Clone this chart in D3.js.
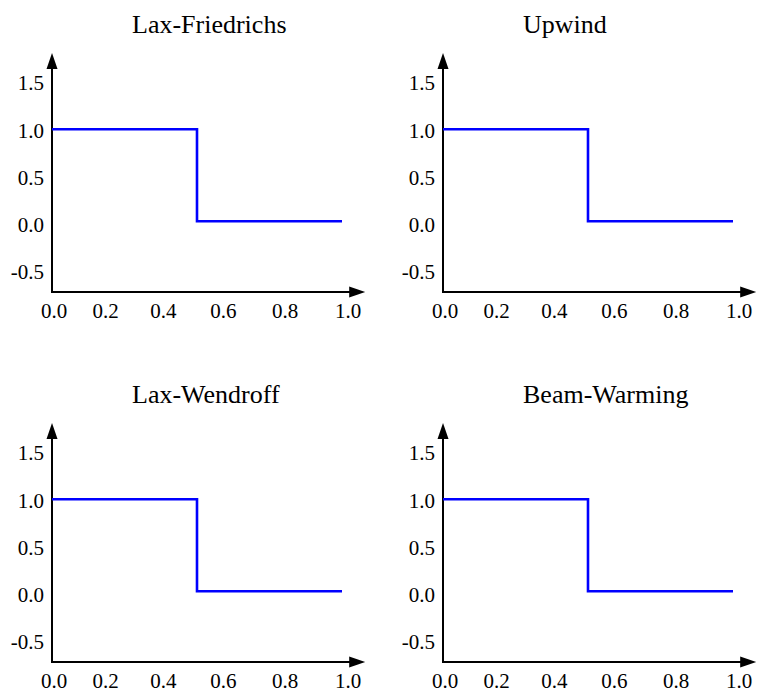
<!DOCTYPE html>
<html>
<head>
<meta charset="utf-8">
<script src="https://cdn.jsdelivr.net/npm/d3@7"></script>
<style>
  body { margin: 0; background: #fff; }
  text { font-family: "Liberation Serif", "Times New Roman", serif; fill: #000; }
</style>
</head>
<body>
<div id="chart"></div>
<script>
// Data
const titles = ["Lax-Friedrichs", "Upwind", "Lax-Wendroff", "Beam-Warming"];
const xValues = [0, 0.5, 0.5, 1.0];
const laxFriedrichs = [1, 1, 0, 0];
const upwind = [1, 1, 0, 0];
const laxWendroff = [1, 1, 0, 0];
const beamWarming = [1, 1, 0, 0];
const series = [laxFriedrichs, upwind, laxWendroff, beamWarming];
const xTicks = [0, 0.2, 0.4, 0.6, 0.8, 1.0];
const yTicks = [-0.5, 0, 0.5, 1.0, 1.5];

const width = 757, height = 691;
const origin = { x: 52, y: 292 };   // axis corner of first panel
const step = { x: 391, y: 370 };    // offset between panels

const svg = d3.select("#chart")
  .append("svg")
    .attr("width", width)
    .attr("height", height);

// Scales (relative to each panel's axis corner)
const x = d3.scaleLinear().domain([0, 1]).range([0, 290]);
const y = d3.scaleLinear().domain([-0.77, 1.83]).range([0, -239]);
// tick labels sit a bit off the data scale in the original
const xLabel = d3.scalePow().exponent(1.08).domain([0, 1]).range([2, 296]);
const yLabel = d3.scaleLinear().domain([-0.5, 1.5]).range([-20, -209]);
const fmt = d => d3.format(".1f")(d).replace("\u2212", "-");

const line = d3.line()
  .x((d, i) => x(xValues[i]))
  .y(d => y(d));

titles.forEach((title, k) => {
  const g = svg.append("g")
    .attr("transform", `translate(${origin.x + (k % 2) * step.x},${origin.y + Math.floor(k / 2) * step.y})`);

  // title
  g.append("text")
    .attr("x", 80)
    .attr("y", -259)
    .style("font-size", "26px")
    .text(title);

  // axes with arrow heads
  const xEnd = x(1.08), yEnd = y(1.83);
  g.append("line")
    .attr("x1", 0).attr("y1", 0)
    .attr("x2", xEnd - 14).attr("y2", 0)
    .attr("stroke", "#000").attr("stroke-width", 2);
  g.append("line")
    .attr("x1", 0).attr("y1", 1)
    .attr("x2", 0).attr("y2", yEnd + 14)
    .attr("stroke", "#000").attr("stroke-width", 2);
  g.append("path")
    .attr("d", `M${xEnd},0 L${xEnd - 16},-5.5 L${xEnd - 16},5.5 Z`)
    .attr("fill", "#000");
  g.append("path")
    .attr("d", `M0,${yEnd} L-5.5,${yEnd + 16} L5.5,${yEnd + 16} Z`)
    .attr("fill", "#000");

  // tick labels
  g.selectAll(".xl")
    .data(xTicks)
    .enter()
    .append("text")
      .attr("x", d => xLabel(d))
      .attr("y", 26)
      .style("text-anchor", "middle")
      .style("font-size", "21px")
      .text(fmt);

  g.selectAll(".yl")
    .data(yTicks)
    .enter()
    .append("text")
      .attr("x", -8)
      .attr("y", d => yLabel(d))
      .attr("dy", "0.35em")
      .style("text-anchor", "end")
      .style("font-size", "21px")
      .text(fmt);

  // solution
  g.append("path")
    .datum(series[k])
    .attr("d", line)
    .attr("fill", "none")
    .attr("stroke", "#0000ff")
    .attr("stroke-width", 2.6);
});
</script>
</body>
</html>
